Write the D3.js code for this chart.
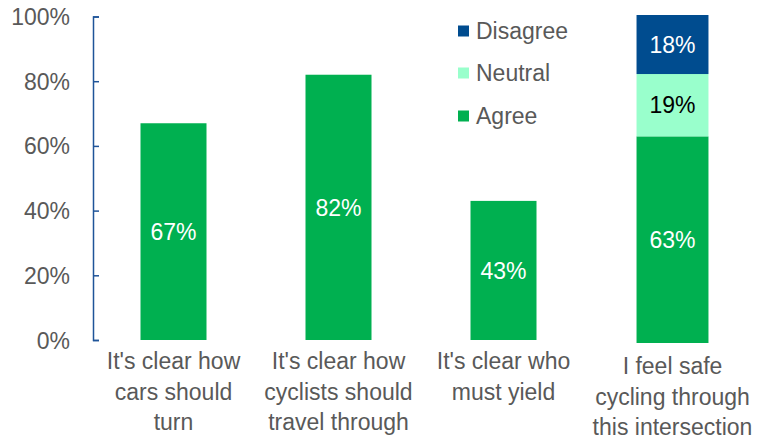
<!DOCTYPE html>
<html>
<head>
<meta charset="utf-8">
<script src="https://cdn.jsdelivr.net/npm/d3@7"></script>
<style>
  html, body { margin: 0; padding: 0; background: #fff; }
  svg { display: block; font-family: "Liberation Sans", Arial, sans-serif; }
</style>
</head>
<body>
<svg id="chart" width="757" height="439"></svg>
<script>
// ---- data ----
const categories = [
  ["It's clear how", "cars should", "turn"],
  ["It's clear how", "cyclists should", "travel through"],
  ["It's clear who", "must yield"],
  ["I feel safe", "cycling through", "this intersection"]
];
const agree    = [67, 82, 43, 63];
const neutral  = [0, 0, 0, 19];
const disagree = [0, 0, 0, 18];
const seriesNames = ["Disagree", "Neutral", "Agree"];
const yTicks = [0, 20, 40, 60, 80, 100];

const colors = { Agree: "#00B050", Neutral: "#99FFCC", Disagree: "#004C8F" };
const labelColors = { Agree: "#ffffff", Neutral: "#000000", Disagree: "#ffffff" };
const textGrey = "#595959";
const axisBlue = "#1F5499";
const FS = 23;

const svg = d3.select("#chart");
const idx = d3.range(categories.length);

// primary scales (single-series bars)
const x = d3.scaleBand().domain(idx).range([91, 751]).paddingInner(0.6).paddingOuter(0.3);
const y = d3.scaleLinear().domain([0, 100]).range([340, 16.5]);
// secondary scales (the stacked bar is plotted on its own axis, as in the source)
const x2 = d3.scaleBand().domain(idx).range([95, 755]).paddingInner(0.564).paddingOuter(0.282);
const y2 = d3.scaleLinear().domain([0, 100]).range([343, 15]);

// y axis
const yAxis = d3.axisLeft(y).tickValues(yTicks).tickFormat(d => d + "%").tickSizeInner(-6).tickSizeOuter(-6).tickPadding(23);
const ga = svg.append("g").attr("transform", "translate(93,0)").call(yAxis);
ga.select(".domain").attr("stroke", axisBlue).attr("stroke-width", 1.5);
ga.selectAll(".tick line").attr("stroke", axisBlue).attr("stroke-width", 1.5);
ga.selectAll(".tick text").attr("fill", textGrey).attr("font-size", FS)
  .attr("font-family", "'Liberation Sans', Arial, sans-serif").attr("dy", "0.35em");

// bars
const stacked = idx.map(i => ({ i, Agree: agree[i], Neutral: neutral[i], Disagree: disagree[i] }));
const stack = d3.stack().keys(["Agree", "Neutral", "Disagree"]);
const layers = stack(stacked);

layers.forEach(layer => {
  const key = layer.key;
  layer.forEach((seg, j) => {
    const v = seg[1] - seg[0];
    if (!v) return;
    const sec = neutral[j] + disagree[j] > 0;
    const xs = sec ? x2 : x, ys = sec ? y2 : y;
    svg.append("rect")
      .attr("x", xs(j)).attr("width", xs.bandwidth())
      .attr("y", ys(seg[1])).attr("height", ys(seg[0]) - ys(seg[1]))
      .attr("fill", colors[key]);
    svg.append("text")
      .attr("x", xs(j) + xs.bandwidth() / 2)
      .attr("y", (ys(seg[0]) + ys(seg[1])) / 2)
      .attr("dy", "0.36em")
      .attr("text-anchor", "middle")
      .attr("font-size", FS)
      .attr("fill", labelColors[key])
      .text(v + "%");
  });
});

// category labels
idx.forEach(i => {
  const sec = neutral[i] + disagree[i] > 0;
  const xs = sec ? x2 : x;
  const cx = xs(i) + xs.bandwidth() / 2;
  const t = svg.append("text").attr("text-anchor", "middle").attr("font-size", FS).attr("fill", textGrey);
  const y0 = sec ? 366 : 361;
  categories[i].forEach((line, k) => {
    t.append("tspan").attr("x", cx).attr("y", y0 + k * 30.5).attr("dy", "0.35em").text(line);
  });
});

// legend
const legendY = [31, 73, 116];
seriesNames.forEach((n, k) => {
  svg.append("rect").attr("x", 458).attr("y", legendY[k] - 5.5).attr("width", 11).attr("height", 11).attr("fill", colors[n]);
  svg.append("text").attr("x", 476).attr("y", legendY[k]).attr("dy", "0.35em")
    .attr("font-size", FS).attr("fill", textGrey).text(n);
});
</script>
</body>
</html>
